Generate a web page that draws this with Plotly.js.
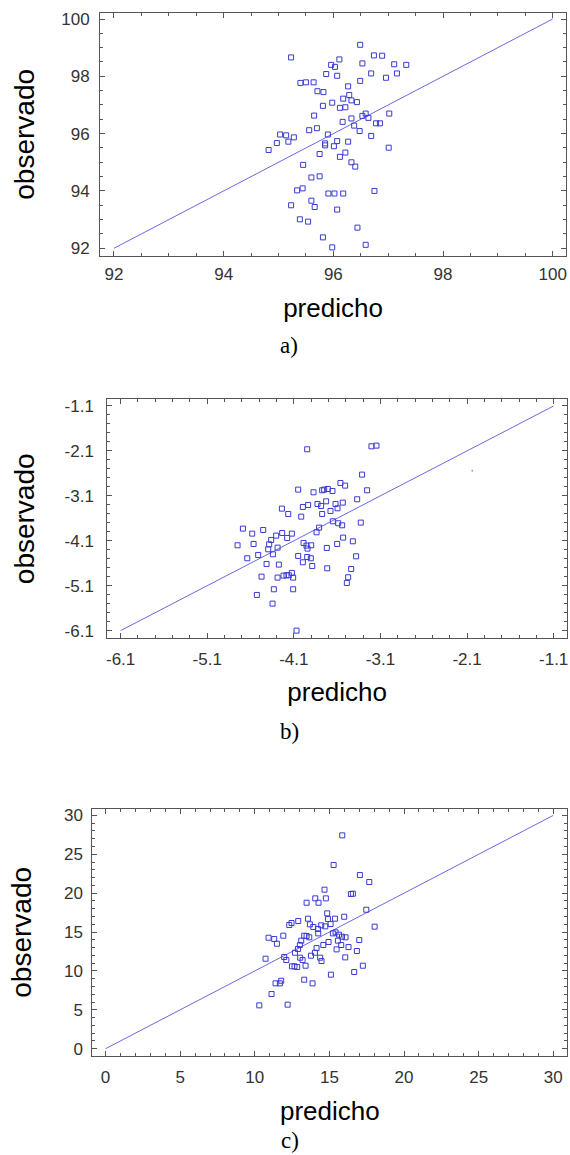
<!DOCTYPE html>
<html>
<head>
<meta charset="utf-8">
<script src="https://cdn.plot.ly/plotly-3.0.1.min.js"></script>
<style>
  html, body { margin: 0; padding: 0; background: #fff; }
  #chart { width: 570px; height: 1155px; }
</style>
</head>
<body>
<div id="chart"></div>
<script>
// ---------- Data: panel a) ----------
const aPredicho = [96.49,95.23,96.74,96.89,96.11,95.96,96.03,96.53,97.11,97.33,
  95.87,96.07,96.69,97.16,96.96,95.40,95.50,95.64,96.49,96.27,
  95.71,95.82,96.29,96.18,96.33,96.43,95.81,95.98,96.12,96.22,
  95.65,97.02,96.59,96.53,96.64,96.33,96.17,96.38,96.78,96.85,
  95.70,95.56,96.48,95.03,95.14,95.28,95.90,96.69,94.97,95.18,
  95.85,95.85,96.07,96.27,96.01,97.01,94.82,95.75,96.22,96.12,
  95.45,96.33,96.40,95.60,95.75,95.34,95.44,95.91,96.02,96.18,
  96.75,95.23,95.60,95.66,96.07,95.39,95.54,96.44,95.81,95.98,96.59];
const aObservado = [99.10,98.66,98.73,98.72,98.59,98.40,98.33,98.45,98.42,98.40,
  98.08,98.02,98.10,98.10,97.95,97.77,97.79,97.79,97.84,97.65,
  97.48,97.45,97.35,97.22,97.16,97.10,96.97,97.08,96.90,96.92,
  96.63,96.70,96.70,96.62,96.55,96.53,96.41,96.28,96.36,96.36,
  96.19,96.12,96.09,95.97,95.94,95.87,95.97,95.92,95.67,95.72,
  95.66,95.59,95.74,95.72,95.56,95.51,95.43,95.29,95.34,95.19,
  94.91,95.00,94.85,94.47,94.51,94.02,94.09,93.91,93.91,93.91,
  94.00,93.50,93.66,93.44,93.35,93.01,92.93,92.72,92.38,92.03,92.12];
const aLine = [92, 100];
const aTicks = [92, 94, 96, 98, 100];
const aTickText = ['92', '94', '96', '98', '100'];

// ---------- Data: panel b) ----------
const bPredicho = [-3.946,-3.204,-3.146,-3.312,-3.562,-3.508,-4.05,-3.873,-3.773,-3.75,
  -3.708,-3.654,-3.254,-3.369,-3.727,-3.827,-3.935,-3.785,-3.996,-3.619,
  -3.535,-3.596,-4.238,-4.165,-3.677,-3.773,-4.015,-3.65,-3.588,-3.542,
  -3.327,-3.808,-3.838,-4.688,-4.581,-4.454,-4.304,-4.235,-4.123,-4.177,
  -4.362,-3.531,-3.419,-4.75,-4.565,-4.385,-4.396,-4.288,-3.988,-3.954,
  -3.942,-3.9,-3.719,-3.6,-4.638,-4.512,-4.342,-4.05,-3.946,-3.904,
  -3.996,-3.888,-3.381,-4.415,-4.273,-3.715,-3.438,-4.219,-4.185,-4.158,
  -4.123,-4.473,-4.288,-4.108,-3.473,-3.488,-4.331,-4.108,-4.527,-4.346,-4.069];
const bObservado = [-2.064,-1.998,-1.983,-2.628,-2.814,-2.873,-2.962,-3.022,-2.977,-2.962,
  -2.947,-2.992,-2.977,-3.177,-3.222,-3.281,-3.303,-3.325,-3.348,-3.281,
  -3.251,-3.378,-3.385,-3.504,-3.437,-3.504,-3.563,-3.667,-3.711,-3.756,
  -3.696,-3.808,-3.912,-3.83,-3.941,-3.86,-3.986,-3.927,-3.941,-4.038,
  -4.082,-4.03,-4.112,-4.201,-4.171,-4.179,-4.29,-4.253,-4.149,-4.208,
  -4.275,-4.201,-4.26,-4.171,-4.49,-4.416,-4.401,-4.438,-4.461,-4.49,
  -4.579,-4.661,-4.446,-4.616,-4.631,-4.713,-4.728,-4.876,-4.868,-4.868,
  -4.816,-4.898,-4.92,-4.92,-4.913,-5.039,-5.18,-5.18,-5.306,-5.499,-6.1];
const bStrayX = [-2.04];
const bStrayY = [-2.54];
const bLine = [-6.1, -1.1];
const bTicks = [-6.1, -5.1, -4.1, -3.1, -2.1, -1.1];
const bTickText = ['-6.1', '-5.1', '-4.1', '-3.1', '-2.1', '-1.1'];

// ---------- Data: panel c) ----------
const cPredicho = [15.86,15.28,17.04,17.67,14.67,14.05,14.76,13.47,14.27,16.44,
  16.57,17.47,14.85,15.99,13.56,14.90,15.37,12.91,12.31,12.46,
  13.69,13.92,14.45,14.72,15.08,14.23,14.25,18.03,15.23,15.41,
  15.64,15.84,16.08,13.31,13.47,13.65,11.91,10.92,11.30,11.48,
  13.11,13.02,12.89,17.00,15.57,14.94,14.59,15.79,16.28,15.48,
  14.14,16.84,12.69,14.03,13.76,11.97,12.11,10.72,13.04,13.20,
  14.38,14.47,16.06,12.49,12.66,12.84,13.40,17.24,16.66,15.10,
  13.31,13.87,11.77,11.39,11.68,11.12,10.30,12.20];
const cObservado = [27.43,23.62,22.33,21.43,20.45,19.33,19.33,18.77,18.77,19.89,
  19.93,17.87,17.40,16.97,16.72,16.67,16.72,16.42,15.90,16.16,
  15.99,15.65,15.86,15.73,16.03,15.39,14.83,15.69,14.83,14.96,
  14.66,14.40,14.32,14.53,14.49,14.32,14.53,14.27,14.10,13.50,
  13.89,13.33,12.82,13.97,13.89,13.72,13.33,13.33,13.07,12.77,
  12.94,12.56,12.34,12.34,11.96,11.79,11.40,11.57,11.70,11.40,
  11.70,11.27,11.74,10.59,10.59,10.50,10.67,10.67,9.86,9.52,
  8.87,8.40,8.74,8.40,8.40,7.03,5.57,5.66];
const cLine = [0, 30];
const cTicks = [0, 5, 10, 15, 20, 25, 30];
const cTickText = ['0', '5', '10', '15', '20', '25', '30'];

const axisTitleX = 'predicho';
const axisTitleY = 'observado';
const panelLabels = ['a)', 'b)', 'c)'];

// ---------- Styling ----------
const W = 570, H = 1155;
const FONT = 'Liberation Sans, Arial, sans-serif';
const SERIF = 'Liberation Serif, Times New Roman, serif';
const markerStyle = { symbol: 'square-open', size: 5, color: '#3a3ad2', line: { width: 1, color: '#3a3ad2' } };
const lineStyle = { color: '#6a6ae0', width: 1 };

function px2x(p) { return p / W; }
function px2y(p) { return 1 - p / H; }

function baseAxis(extra) {
  return Object.assign({
    showline: true, linecolor: '#555', linewidth: 1, mirror: 'ticks',
    ticks: 'inside', ticklen: 5, tickwidth: 1, tickcolor: '#555',
    showgrid: false, zeroline: false, tickmode: 'array',
    tickfont: { family: FONT, size: 17, color: '#333' },
    fixedrange: true
  }, extra);
}

const traces = [
  { x: aLine, y: aLine, mode: 'lines', line: lineStyle, xaxis: 'x', yaxis: 'y', hoverinfo: 'skip' },
  { x: aPredicho, y: aObservado, mode: 'markers', marker: markerStyle, xaxis: 'x', yaxis: 'y' },
  { x: bLine, y: bLine, mode: 'lines', line: lineStyle, xaxis: 'x2', yaxis: 'y2', hoverinfo: 'skip' },
  { x: bPredicho, y: bObservado, mode: 'markers', marker: markerStyle, xaxis: 'x2', yaxis: 'y2' },
  { x: bStrayX, y: bStrayY, mode: 'markers', marker: { symbol: 'circle', size: 2, color: '#9a9ae0' }, xaxis: 'x2', yaxis: 'y2' },
  { x: cLine, y: cLine, mode: 'lines', line: lineStyle, xaxis: 'x3', yaxis: 'y3', hoverinfo: 'skip' },
  { x: cPredicho, y: cObservado, mode: 'markers', marker: markerStyle, xaxis: 'x3', yaxis: 'y3' }
];

const titleXFont = { family: FONT, size: 26, color: '#000' };
const titleYFont = { family: FONT, size: 28, color: '#000' };
const labelFont = { family: SERIF, size: 23, color: '#000' };

const layout = {
  width: W, height: H,
  margin: { l: 0, r: 0, t: 0, b: 0 },
  paper_bgcolor: '#fff', plot_bgcolor: '#fff',
  showlegend: false,
  xaxis: baseAxis({ domain: [px2x(100), px2x(566)], range: [91.745, 100.243], anchor: 'y',
    tickvals: aTicks, ticktext: aTickText, ticklabelstandoff: 3,
    minor: { ticks: 'inside', ticklen: 3, tickcolor: '#555', tick0: 92, dtick: 0.5, showgrid: false },
    title: { text: axisTitleX, font: titleXFont, standoff: 15 } }),
  yaxis: baseAxis({ domain: [px2y(256), px2y(12.7)], range: [91.73, 100.22], anchor: 'x',
    tickvals: aTicks, ticktext: aTickText, ticklabelstandoff: 6,
    minor: { ticks: 'inside', ticklen: 3, tickcolor: '#555', tick0: 92, dtick: 0.5, showgrid: false },
    title: { text: axisTitleY, font: titleYFont, standoff: 18 } }),
  xaxis2: baseAxis({ domain: [px2x(107.3), px2x(567)], range: [-6.254, -0.946], anchor: 'y2',
    tickvals: bTicks, ticktext: bTickText, ticklabelstandoff: 5,
    minor: { ticks: 'inside', ticklen: 3, tickcolor: '#555', tick0: -6.1, dtick: 0.2, showgrid: false },
    title: { text: axisTitleX, font: titleXFont, standoff: 15 } }),
  yaxis2: baseAxis({ domain: [px2y(638.3), px2y(399.3)], range: [-6.271, -0.952], anchor: 'x2',
    tickvals: bTicks, ticktext: bTickText, ticklabelstandoff: 9,
    minor: { ticks: 'inside', ticklen: 3, tickcolor: '#555', tick0: -6.1, dtick: 0.2, showgrid: false },
    title: { text: axisTitleY, font: titleYFont, standoff: 21 } }),
  xaxis3: baseAxis({ domain: [px2x(92.3), px2x(567.3)], range: [-0.89, 30.94], anchor: 'y3',
    tickvals: cTicks, ticktext: cTickText, ticklabelstandoff: 6,
    minor: { ticks: 'inside', ticklen: 3, tickcolor: '#555', tick0: 0, dtick: 1, showgrid: false },
    title: { text: axisTitleX, font: titleXFont, standoff: 15 } }),
  yaxis3: baseAxis({ domain: [px2y(1056), px2y(808.7)], range: [-0.94, 30.86], anchor: 'x3',
    tickvals: cTicks, ticktext: cTickText, ticklabelstandoff: 5,
    minor: { ticks: 'inside', ticklen: 3, tickcolor: '#555', tick0: 0, dtick: 1, showgrid: false },
    title: { text: axisTitleY, font: titleYFont, standoff: 24 } }),
  annotations: [
    { text: panelLabels[0], xref: 'paper', yref: 'paper', x: px2x(289), y: px2y(345), xanchor: 'center', yanchor: 'middle',
      showarrow: false, borderpad: 0, font: labelFont },
    { text: panelLabels[1], xref: 'paper', yref: 'paper', x: px2x(289), y: px2y(731), xanchor: 'center', yanchor: 'middle',
      showarrow: false, borderpad: 0, font: labelFont },
    { text: panelLabels[2], xref: 'paper', yref: 'paper', x: px2x(290), y: px2y(1140), xanchor: 'center', yanchor: 'middle',
      showarrow: false, borderpad: 0, font: labelFont }
  ]
};

Plotly.newPlot('chart', traces, layout, { displayModeBar: false, staticPlot: true });
</script>
</body>
</html>
